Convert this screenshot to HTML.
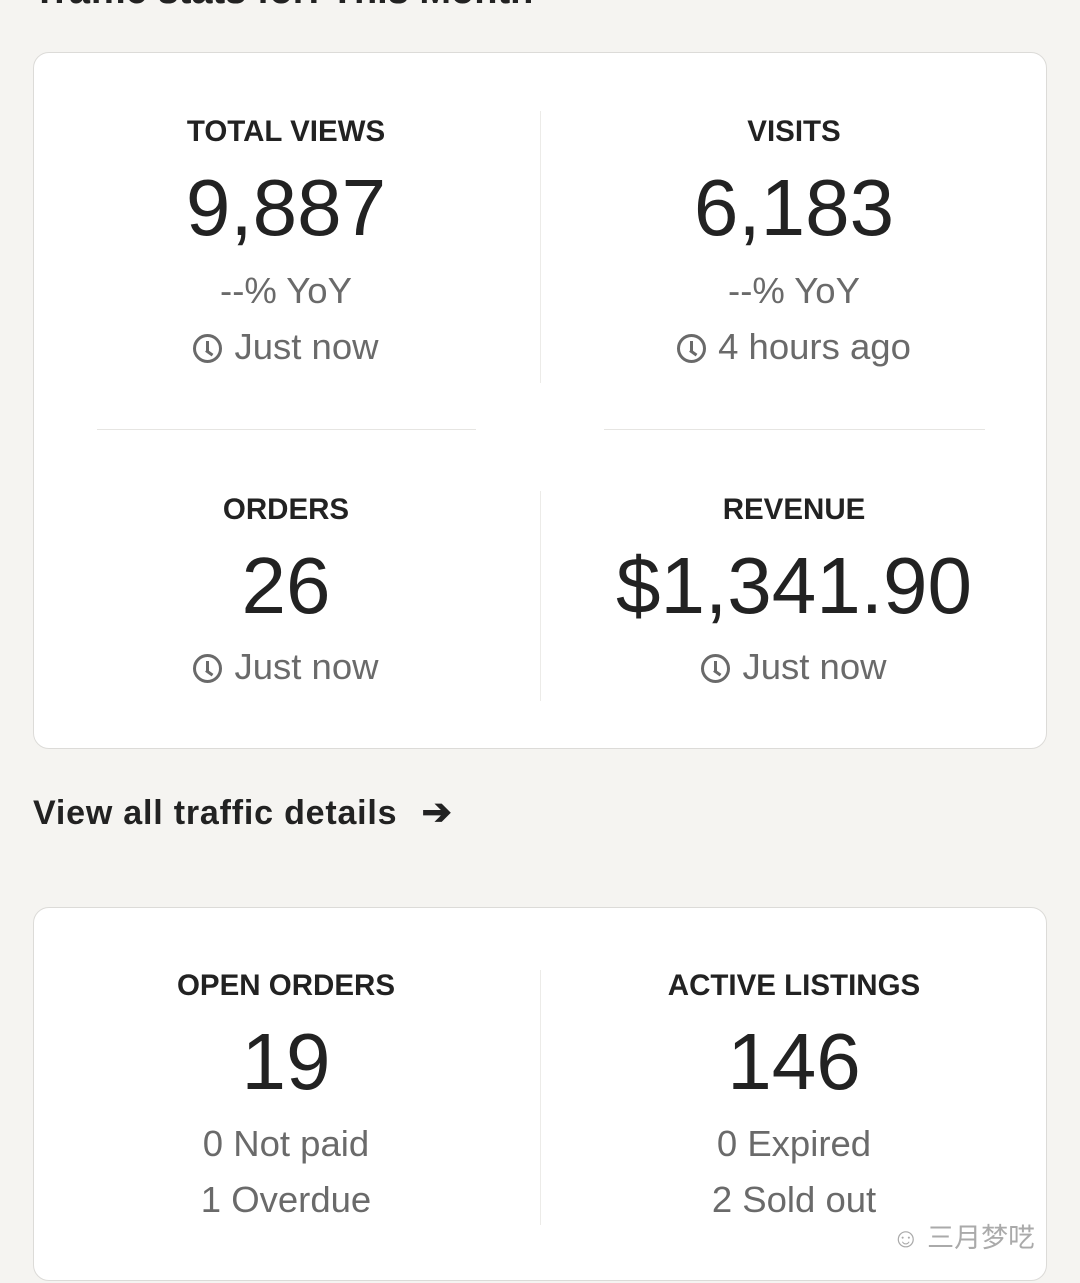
<!DOCTYPE html>
<html><head><meta charset="utf-8"><style>
html,body{margin:0;padding:0;}
body{width:1080px;height:1283px;background:#f5f4f1;position:relative;overflow:hidden;font-family:"Liberation Sans","Noto Sans CJK SC",sans-serif;color:#222;}
.card{position:absolute;left:33px;width:1012px;background:#fff;border:1.5px solid #dcdbd8;border-radius:16px;}
.t{position:absolute;width:500px;text-align:center;white-space:nowrap;}
.lab{font-size:29.5px;font-weight:bold;height:40px;line-height:40px;color:#222;}
.num{font-size:80px;height:90px;line-height:90px;color:#222;}
.g{font-size:36.5px;height:50px;line-height:50px;color:#6a6a6a;}
.clk{display:inline-block;width:29px;height:29px;border:3px solid #6a6a6a;border-radius:50%;position:relative;vertical-align:-4px;margin-right:12px;box-sizing:border-box;}
.clk:before{content:"";position:absolute;left:10px;top:4px;width:3px;height:10px;background:#6a6a6a;}
.clk:after{content:"";position:absolute;left:10px;top:12px;width:8px;height:3px;background:#6a6a6a;transform:rotate(35deg);transform-origin:left center;}
.vl{position:absolute;left:506px;width:1px;background:#ecebe8;}
.hl{position:absolute;height:1px;background:#e6e5e2;}
</style></head><body>
<div style="position:absolute;left:33px;top:-30px;font-size:38px;font-weight:bold;color:#222;">Traffic stats for: This Month</div>
<div class="card" style="top:52px;height:695px;">
  <div class="vl" style="top:58px;height:272px;"></div>
  <div class="vl" style="top:438px;height:210px;"></div>
  <div class="hl" style="left:63px;width:379px;top:376px;"></div>
  <div class="hl" style="left:570px;width:381px;top:376px;"></div>
  <div class="t lab" style="left:2px;top:59px;">TOTAL VIEWS</div>
  <div class="t num" style="left:2px;top:110px;">9,887</div>
  <div class="t g" style="left:2px;top:213px;">--% YoY</div>
  <div class="t g" style="left:2px;top:269px;"><span class="clk"></span>Just now</div>
  <div class="t lab" style="left:510px;top:59px;">VISITS</div>
  <div class="t num" style="left:510px;top:110px;">6,183</div>
  <div class="t g" style="left:510px;top:213px;">--% YoY</div>
  <div class="t g" style="left:510px;top:269px;"><span class="clk"></span>4 hours ago</div>
  <div class="t lab" style="left:2px;top:437px;">ORDERS</div>
  <div class="t num" style="left:2px;top:488px;">26</div>
  <div class="t g" style="left:2px;top:589px;"><span class="clk"></span>Just now</div>
  <div class="t lab" style="left:510px;top:437px;">REVENUE</div>
  <div class="t num" style="left:510px;top:488px;">$1,341.90</div>
  <div class="t g" style="left:510px;top:589px;"><span class="clk"></span>Just now</div>
</div>
<div style="position:absolute;left:33px;top:790px;font-size:34px;letter-spacing:0.8px;font-weight:bold;line-height:44px;color:#222;">View all traffic details <span style="font-size:36px;margin-left:14px;">&#10132;</span></div>
<div class="card" style="top:907px;height:372px;">
  <div class="vl" style="top:62px;height:255px;"></div>
  <div class="t lab" style="left:2px;top:58px;">OPEN ORDERS</div>
  <div class="t num" style="left:2px;top:109px;">19</div>
  <div class="t g" style="left:2px;top:211px;">0 Not paid</div>
  <div class="t g" style="left:2px;top:267px;">1 Overdue</div>
  <div class="t lab" style="left:510px;top:58px;">ACTIVE LISTINGS</div>
  <div class="t num" style="left:510px;top:109px;">146</div>
  <div class="t g" style="left:510px;top:211px;">0 Expired</div>
  <div class="t g" style="left:510px;top:267px;">2 Sold out</div>
</div>
<div style="position:absolute;left:892px;top:1216px;font-size:27px;color:#aaa;"><span>&#9786;</span> 三月梦呓</div>
</body></html>
